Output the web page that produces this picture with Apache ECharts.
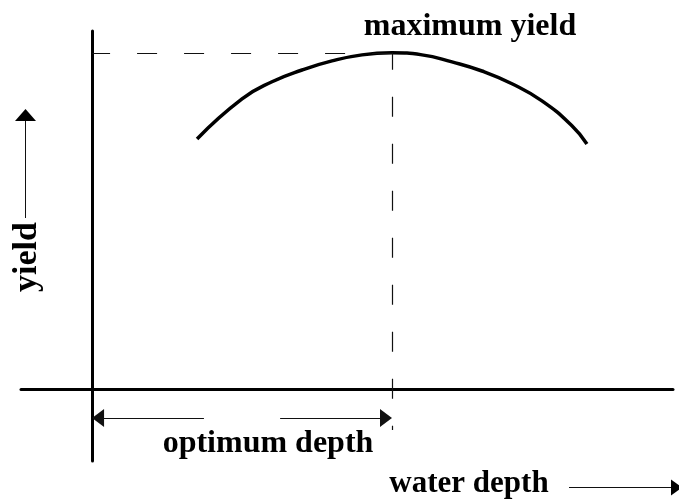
<!DOCTYPE html>
<html>
<head>
<meta charset="utf-8">
<script src="https://cdn.jsdelivr.net/npm/echarts@6/dist/echarts.min.js"></script>
<style>
  html, body { margin: 0; padding: 0; background: #fff; }
  #chart { width: 679px; height: 499px; }
</style>
</head>
<body>
<div id="chart"></div>
<script>
// yield curve (x: water depth, y: yield, arbitrary units)
const depth = [3.5, 5, 6, 7, 8, 9, 10, 11, 12, 13, 14, 15, 16, 16.5];
const yieldValues = [7.44, 8.63, 9.14, 9.49, 9.76, 9.94, 10, 9.94, 9.73, 9.46, 9.08, 8.57, 7.83, 7.29];
const optimum = [10, 10]; // optimum depth, maximum yield
const xRange = [-2.37, 19.37];
const yRange = [-2.14, 10.65];
const optimumArrow = [0.2, 3.73, 6.27, 9.8, -0.86]; // left end, gap start, gap end, right end, level
const dropEnd = [-1.22];
const texts = ["maximum yield", "optimum depth", "water depth", "yield"];

const font = 'bold 32px "Liberation Serif"';
const chart = echarts.init(document.getElementById("chart"));

const dashed = (offset) => ({ color: "#111", width: 1.2, type: [20, 27], dashOffset: offset });
const thin = { color: "#111", width: 1, type: "solid" };

chart.setOption({
  animation: false,
  grid: { left: 21, right: 6, top: 31, bottom: 38 },
  xAxis: {
    type: "value",
    min: xRange[0],
    max: xRange[1],
    axisLine: { show: true, onZero: true, lineStyle: { color: "#000", width: 3 } },
    axisTick: { show: false },
    axisLabel: { show: false },
    splitLine: { show: false },
  },
  yAxis: {
    type: "value",
    min: yRange[0],
    max: yRange[1],
    axisLine: { show: true, onZero: true, lineStyle: { color: "#000", width: 3 } },
    axisTick: { show: false },
    axisLabel: { show: false },
    splitLine: { show: false },
  },
  series: [
    {
      type: "line",
      data: depth.map((d, i) => [d, yieldValues[i]]),
      smooth: 0.5,
      showSymbol: false,
      lineStyle: { color: "#000", width: 3.5 },
      silent: true,
      markLine: {
        silent: true,
        label: { show: false },
        symbol: "none",
        data: [
          [
            { coord: [0, optimum[1]], lineStyle: dashed(2) },
            { coord: [optimum[0], optimum[1]] },
          ],
          [
            { coord: [optimum[0], optimum[1]], lineStyle: dashed(3) },
            { coord: [optimum[0], dropEnd[0]] },
          ],
          [
            { coord: [optimumArrow[0], optimumArrow[4]], symbol: "triangle", symbolSize: [18, 12], lineStyle: thin },
            { coord: [optimumArrow[1], optimumArrow[4]], symbol: "none" },
          ],
          [
            { coord: [optimumArrow[2], optimumArrow[4]], symbol: "none", lineStyle: thin },
            { coord: [optimumArrow[3], optimumArrow[4]], symbol: "triangle", symbolSize: [18, 12] },
          ],
        ],
      },
    },
  ],
  graphic: [
    { type: "text", x: 470, y: 27, style: { text: texts[0], font: font, fill: "#000", align: "center", verticalAlign: "middle" } },
    { type: "text", x: 268, y: 444, style: { text: texts[1], font: font, fill: "#000", align: "center", verticalAlign: "middle" } },
    { type: "text", x: 469, y: 484, style: { text: texts[2], font: 'bold 31px "Liberation Serif"', fill: "#000", align: "center", verticalAlign: "middle" } },
    { type: "text", x: 27.5, y: 257, rotation: Math.PI / 2, style: { text: texts[3], font: 'bold 34px "Liberation Serif"', fill: "#000", align: "center", verticalAlign: "middle" } },
    // arrow beside "yield"
    { type: "line", shape: { x1: 25.5, y1: 218, x2: 25.5, y2: 120 }, style: { stroke: "#111", lineWidth: 1 } },
    { type: "polygon", shape: { points: [[25.5, 109], [15, 121], [36, 121]] }, style: { fill: "#000" } },
    // arrow after "water depth"
    { type: "line", shape: { x1: 569, y1: 487.5, x2: 672, y2: 487.5 }, style: { stroke: "#111", lineWidth: 1 } },
    { type: "polygon", shape: { points: [[682, 487.5], [671, 479.5], [671, 495.5]] }, style: { fill: "#000" } },
  ],
});
</script>
</body>
</html>
